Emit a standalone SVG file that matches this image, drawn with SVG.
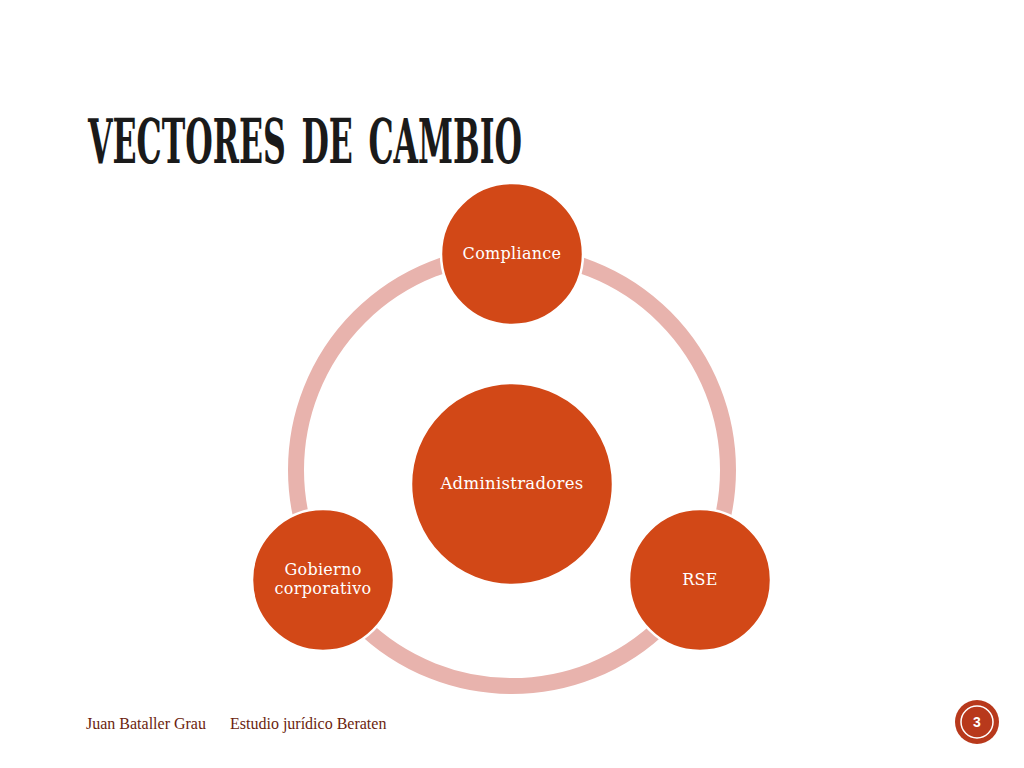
<svg xmlns="http://www.w3.org/2000/svg" width="1024" height="768" viewBox="0 0 1024 768">
<style>
.node{fill:#D24817;stroke:#fff;stroke-width:2.5}
.lbl{font-family:"DejaVu Serif","Liberation Serif",serif;fill:#fff;font-size:16px;text-anchor:middle;letter-spacing:0.3px}
.foot{font-family:"Liberation Serif",serif;fill:#6B1E0E;font-size:16px}
</style>
<rect width="1024" height="768" fill="#fff"/>
<text x="88" y="163" font-family="'DejaVu Serif Condensed','DejaVu Serif',serif" font-weight="bold" font-size="62" fill="#1a1a1a" textLength="434" lengthAdjust="spacingAndGlyphs" word-spacing="8">VECTORES DE CAMBIO</text>
<g id="connectors">
<circle cx="512" cy="470" r="216" fill="none" stroke="#E8B3AD" stroke-width="16"/>
</g>
<g id="n-compliance"><circle class="node" cx="512" cy="254" r="71"/><text class="lbl" x="512" y="259">Compliance</text></g>
<g id="n-admin"><circle class="node" cx="512" cy="484" r="101"/><text class="lbl" x="512" y="489" style="font-size:16.5px">Administradores</text></g>
<g id="n-rse"><circle class="node" cx="700" cy="580" r="71"/><text class="lbl" x="700" y="585">RSE</text></g>
<g id="n-gob"><circle class="node" cx="323" cy="580" r="71"/><text class="lbl" x="323" y="575">Gobierno</text><text class="lbl" x="323" y="594">corporativo</text></g>
<g id="footer">
<text class="foot" x="86" y="729">Juan Bataller Grau</text>
<text class="foot" x="230" y="729">Estudio jurídico Beraten</text>
</g>
<g id="page">
<circle cx="977" cy="722" r="22" fill="#B8391C"/>
<circle cx="977" cy="722" r="16" fill="none" stroke="#fff" stroke-width="1.5"/>
<text x="977" y="727" font-family="'Liberation Sans',sans-serif" font-weight="bold" font-size="14" fill="#fff" text-anchor="middle">3</text>
</g>
</svg>
